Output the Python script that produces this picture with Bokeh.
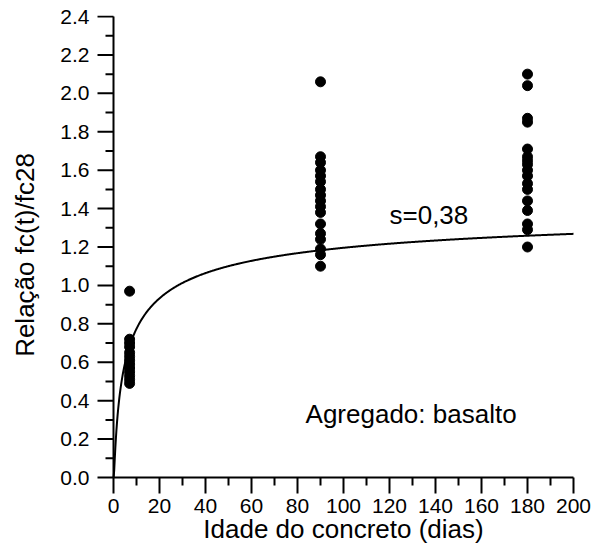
import numpy as np
from bokeh.plotting import figure
from bokeh.models import FixedTicker, PrintfTickFormatter, Label
from bokeh.embed import file_html
from bokeh.resources import INLINE

# Data
ages_7 = [7] * 13
ratio_7 = [0.97, 0.49, 0.51, 0.53, 0.55, 0.57, 0.59, 0.61, 0.63, 0.65, 0.68, 0.70, 0.72]
ages_90 = [90] * 17
ratio_90 = [2.06, 1.67, 1.64, 1.60, 1.57, 1.54, 1.50, 1.47, 1.44, 1.41, 1.38, 1.32, 1.27, 1.24, 1.19, 1.16, 1.10]
ages_180 = [180] * 17
ratio_180 = [2.10, 2.04, 1.87, 1.85, 1.71, 1.67, 1.65, 1.63, 1.60, 1.57, 1.53, 1.50, 1.44, 1.39, 1.32, 1.29, 1.20]
s_coef = 0.38
x_ticks = [0, 20, 40, 60, 80, 100, 120, 140, 160, 180, 200]
x_minor = [10, 30, 50, 70, 90, 110, 130, 150, 170, 190]
y_ticks = [0.0, 0.2, 0.4, 0.6, 0.8, 1.0, 1.2, 1.4, 1.6, 1.8, 2.0, 2.2, 2.4]
y_minor = [0.1, 0.3, 0.5, 0.7, 0.9, 1.1, 1.3, 1.5, 1.7, 1.9, 2.1, 2.3]

FONT = "Liberation Sans"

W, H = 592, 556
PX_X = 460 / 200.0
PX_Y = 461 / 2.4
MAJ, MIN = 16, 8
PAD = 17

x0 = -PAD / PX_X
x1 = 200 + PAD / PX_X
y0 = -PAD / PX_Y
y1 = 2.4 + 1 / PX_Y
left = 113 - PAD
right = W - left - int(round((x1 - x0) * PX_X))
bottom = 556 - 477 - PAD
top = H - bottom - int(round((y1 - y0) * PX_Y))

p = figure(width=W, height=H, x_range=(x0, x1), y_range=(y0, y1),
           output_backend="svg", toolbar_location=None,
           min_border_left=left, min_border_right=right,
           min_border_top=top, min_border_bottom=bottom)
p.outline_line_color = None
p.xgrid.visible = False
p.ygrid.visible = False
p.background_fill_color = "white"
p.border_fill_color = "white"

# axis lines and outward ticks
p.segment(x0=[0, 0], y0=[0, 0], x1=[200, 0], y1=[0, 2.4], line_color="black", line_width=2)
p.rect(x=x_ticks, y=[-MAJ / 2 / PX_Y] * len(x_ticks), width=2, height=MAJ,
       width_units="screen", height_units="screen", fill_color="black", line_color=None)
p.rect(x=x_minor, y=[-MIN / 2 / PX_Y] * len(x_minor), width=2, height=MIN,
       width_units="screen", height_units="screen", fill_color="black", line_color=None)
p.rect(x=[-MAJ / 2 / PX_X] * len(y_ticks), y=y_ticks, width=MAJ, height=2,
       width_units="screen", height_units="screen", fill_color="black", line_color=None)
p.rect(x=[-MIN / 2 / PX_X] * len(y_minor), y=y_minor, width=MIN, height=2,
       width_units="screen", height_units="screen", fill_color="black", line_color=None)

# model curve fc(t)/fc28 = exp(s(1 - sqrt(28/t)))
t = np.linspace(0.05, 200, 800)
fc = np.exp(s_coef * (1 - np.sqrt(28.0 / t)))
t = np.concatenate([[0.0], t])
fc = np.concatenate([[0.0], fc])
p.line(t, fc, line_color="black", line_width=2)

xs = ages_7 + ages_90 + ages_180
ys = ratio_7 + ratio_90 + ratio_180
p.scatter(xs, ys, size=10, fill_color="black", line_color="black")

p.add_layout(Label(x=120, y=1.365, text="s=0,38", text_font=FONT, text_font_size="26px",
                   text_baseline="middle", text_color="black"))
p.add_layout(Label(x=83.5, y=0.33, text="Agregado: basalto", text_font=FONT, text_font_size="26px",
                   text_baseline="middle", text_color="black"))

p.xaxis.ticker = FixedTicker(ticks=x_ticks, minor_ticks=[])
p.yaxis.ticker = FixedTicker(ticks=y_ticks, minor_ticks=[])
p.yaxis.formatter = PrintfTickFormatter(format="%.1f")

for ax in (p.xaxis[0], p.yaxis[0]):
    ax.axis_line_color = None
    ax.major_tick_line_color = None
    ax.minor_tick_line_color = None
    ax.major_tick_out = 0
    ax.major_tick_in = 0
    ax.minor_tick_out = 0
    ax.minor_tick_in = 0
    ax.major_label_text_font = FONT
    ax.major_label_text_font_size = "21px"
    ax.major_label_text_color = "black"
    ax.axis_label_text_font = FONT
    ax.axis_label_text_font_size = "26px"
    ax.axis_label_text_font_style = "normal"
    ax.axis_label_text_color = "black"

p.xaxis.major_label_standoff = 4
p.yaxis.major_label_standoff = 7
p.xaxis.axis_label = "Idade do concreto (dias)"
p.yaxis.axis_label = "Relação fc(t)/fc28"
p.xaxis.axis_label_standoff = -2
p.yaxis.axis_label_standoff = 17

open("out.html", "w").write(file_html(p, INLINE))
